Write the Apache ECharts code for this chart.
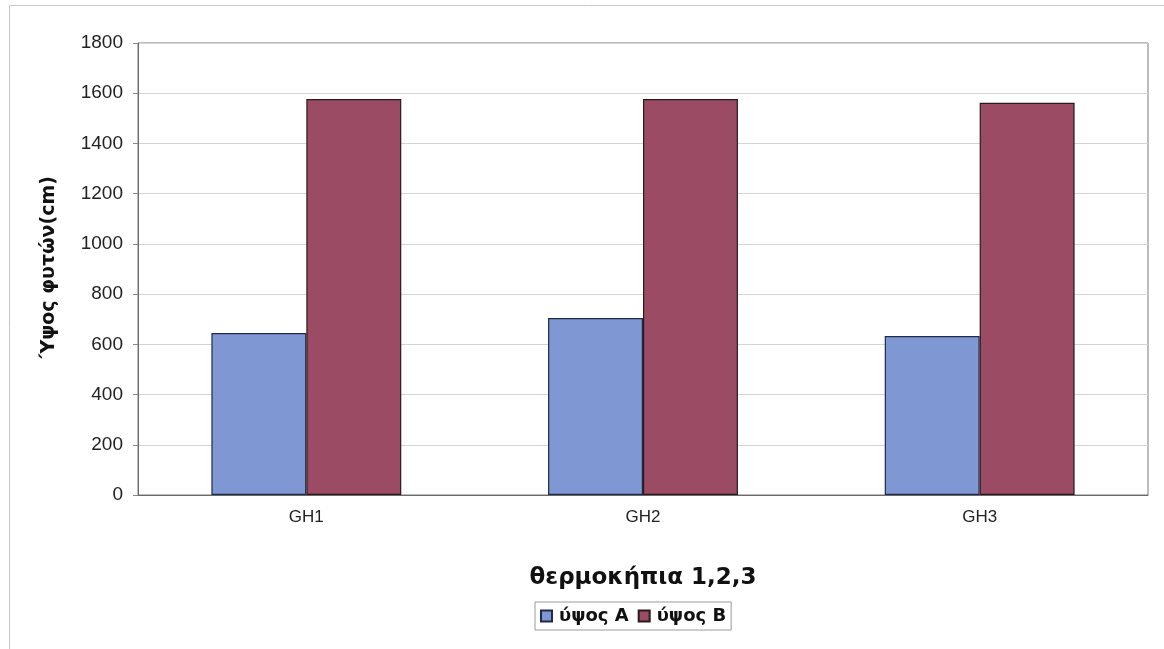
<!DOCTYPE html>
<html>
<head>
<meta charset="utf-8">
<script src="https://cdn.jsdelivr.net/npm/echarts@6/dist/echarts.min.js"></script>
<style>html,body{margin:0;padding:0;background:#fff}#c{width:1164px;height:649px}</style>
</head>
<body>
<div id="c"></div>
<script>
const categories = ['GH1', 'GH2', 'GH3'];
const seriesNames = ['ύψος A', 'ύψος B'];
const heightA = [645, 705, 633];
const heightB = [1577, 1577, 1562];
const yTicks = { min: 0, max: 1800, interval: 200 };

const chart = echarts.init(document.getElementById('c'), null, { renderer: 'canvas' });
const font = 'Arial, "Liberation Sans", sans-serif';
const wide = '"DejaVu Sans", Verdana, sans-serif';
chart.setOption({
  animation: false,
  backgroundColor: '#fff',
  graphic: [{
    type: 'rect', silent: true,
    shape: { x: 9.5, y: 5.5, width: 1170, height: 700 },
    style: { fill: 'none', stroke: '#c8c8c8', lineWidth: 1 }
  }],
  grid: { left: 138, right: 16, top: 43, bottom: 154, show: true, borderColor: '#7a7a7a', borderWidth: 1 },
  legend: {
    data: seriesNames,
    bottom: 19,
    left: 535,
    itemWidth: 11, itemHeight: 11, itemGap: 9,
    borderColor: '#9a9a9a', borderWidth: 1, padding: [5, 5, 5, 5],
    textStyle: { fontFamily: wide, fontSize: 18, fontWeight: 'bold', color: '#111', padding: [0, 0, 0, 2] },
    icon: 'rect'
  },
  xAxis: {
    type: 'category',
    data: categories,
    name: 'θερμοκήπια 1,2,3',
    nameLocation: 'middle',
    nameGap: 72,
    nameTextStyle: { fontFamily: wide, fontSize: 23, fontWeight: 'bold', color: '#111' },
    axisLine: { lineStyle: { color: '#6a6a6a' } },
    axisTick: { show: false },
    axisLabel: { fontFamily: font, fontSize: 17, color: '#222', margin: 14 }
  },
  yAxis: {
    type: 'value',
    min: yTicks.min, max: yTicks.max, interval: yTicks.interval,
    name: '΄Υψος φυτών(cm)',
    nameLocation: 'middle',
    nameGap: 79,
    nameTextStyle: { fontFamily: wide, fontSize: 19, fontWeight: 'bold', color: '#111' },
    axisLine: { show: true, lineStyle: { color: '#6a6a6a' } },
    axisTick: { show: true, length: 5, lineStyle: { color: '#888' } },
    axisLabel: { fontFamily: font, fontSize: 19, color: '#222', margin: 15, formatter: v => String(v) },
    splitLine: { lineStyle: { color: '#d4d4d4' } }
  },
  series: [
    {
      name: seriesNames[0], type: 'bar', data: heightA,
      barGap: '0%', barCategoryGap: '43.6%',
      itemStyle: { color: '#7f98d4', borderColor: '#1f2a44', borderWidth: 1.2 }
    },
    {
      name: seriesNames[1], type: 'bar', data: heightB,
      barGap: '0%', barCategoryGap: '43.6%',
      itemStyle: { color: '#9b4b63', borderColor: '#2a1a1e', borderWidth: 1.2 }
    }
  ]
});
</script>
</body>
</html>
